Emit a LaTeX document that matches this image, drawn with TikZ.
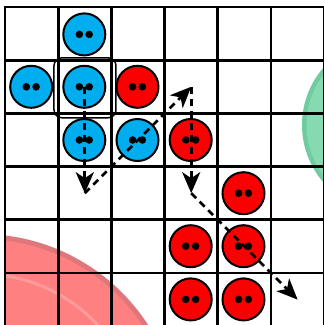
\documentclass[tikz,border=0pt]{standalone}
\usetikzlibrary{arrows.meta}
\definecolor{pieceblue}{RGB}{0,174,239}
\definecolor{piecered}{RGB}{250,0,0}
\definecolor{pinkrim}{RGB}{222,118,124}
\definecolor{pinkfill}{RGB}{255,128,128}
\definecolor{pinkhl}{RGB}{255,155,155}
\definecolor{greenrim}{RGB}{112,204,160}
\definecolor{greenfill}{RGB}{134,218,178}
\tikzset{
  piece/.style={circle, draw=black, line width=2pt, minimum size=42pt, inner sep=0pt,
    path picture={\fill[black] ([xshift=-4.9pt]path picture bounding box.center) circle[radius=3.8pt]
                               ([xshift=4.9pt]path picture bounding box.center) circle[radius=3.8pt];}},
  bluepiece/.style={piece, fill=pieceblue},
  redpiece/.style={piece, fill=piecered},
  gridline/.style={line width=2.7pt, black},
  selbox/.style={draw=black, line width=1.5pt, rounded corners=8pt, minimum width=62pt, minimum height=60pt, inner sep=0pt},
  move/.style={line width=2.7pt, dash pattern=on 7pt off 5pt, -{Stealth[length=21pt,width=18pt,inset=6pt]}}
}
\begin{document}
\begin{tikzpicture}[x=1pt,y=-1pt]
\useasboundingbox (0,0) rectangle (324,325);
\clip (0,0) rectangle (324,325);
\fill[white] (0,0) rectangle (324,325);
% background balls
\fill[pinkrim] (-19,433) circle[radius=199pt];
\fill[pinkfill] (-19,433) circle[radius=194pt];
\draw[pinkhl, line width=3pt] (-19,433) circle[radius=159pt];
\fill[greenrim] (389.5,125) circle[radius=87.5pt];
\fill[greenfill] (389.5,125) circle[radius=83pt];
% grid
\foreach \k in {0,...,6} {
  \draw[gridline] ({5+53.2*\k},0) -- ({5+53.2*\k},330);
  \draw[gridline] (0,{7+53.2*\k}) -- (330,{7+53.2*\k});
}
\fill[white] (0,0) rectangle (3.65,325);
\fill[white] (0,0) rectangle (324,5.65);
% selection
\node[selbox] (sel) at (85,87.8) {};
% pieces
\node[bluepiece] (b10) at (84.3,34.4) {};
\node[bluepiece] (b01) at (31.2,86.8) {};
\node[bluepiece] (b11) at (84.3,86.8) {};
\node[bluepiece] (b12) at (84.3,140.0) {};
\node[bluepiece] (b22) at (137.5,140.0) {};
\node[redpiece] (r21) at (137.5,86.8) {};
\node[redpiece] (r32) at (190.7,140.0) {};
\node[redpiece] (r43) at (243.5,193.2) {};
\node[redpiece] (r34) at (190.7,246.2) {};
\node[redpiece] (r44) at (243.5,246.2) {};
\node[redpiece] (r35) at (190.7,299.4) {};
\node[redpiece] (r45) at (243.5,299.4) {};
% move path
\coordinate (c11) at (84.8,86.8);
\coordinate (c13) at (84.8,193.2);
\coordinate (c31) at (191.2,86.8);
\coordinate (c33) at (191.2,193.2);
\coordinate (c55) at (297.6,299.6);
\draw[move] (c11) -- (c13);
\draw[move] (c13) -- (c31);
\draw[move] (c31) -- (c33);
\draw[move] (c33) -- (c55);
\end{tikzpicture}
\end{document}
